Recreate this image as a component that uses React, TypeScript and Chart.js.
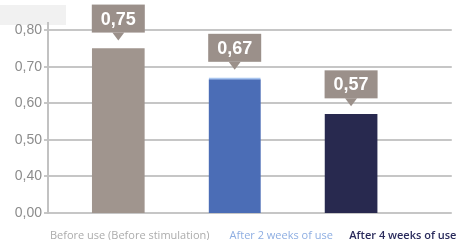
import React, { useEffect, useRef } from "react";
import { Chart, registerables } from "chart.js";

Chart.register(...registerables);

const categories = ["Before use (Before stimulation)", "After 2 weeks of use", "After 4 weeks of use"];
const values = [0.75, 0.67, 0.57];
const barColors = ["#a0958e", "#4b6db6", "#28294f"];
const labelColors = ["#acacac", "#8eaee2", "#2a2b5c"];
// broken axis: the bottom tick (0,00) sits where 0.30 would be
const yTickValues = [0.3, 0.4, 0.5, 0.6, 0.7, 0.8];
const yTickLabels = ["0,00", "0,40", "0,50", "0,60", "0,70", "0,80"];
// x positions (in bar units) of the category labels under the axis
const xLabelPositions = [0.098, 1.4, 2.445];

const valueBoxPlugin = {
  id: "valueBoxes",
  beforeDraw(chart: any) {
    const ctx = chart.ctx;
    ctx.save();
    ctx.fillStyle = "#f1f1f1";
    ctx.fillRect(0, 5, 66, 20);
    ctx.restore();
  },
  afterDatasetsDraw(chart: any) {
    const ctx = chart.ctx;
    const meta = chart.getDatasetMeta(0);
    ctx.save();
    meta.data.forEach((bar: any, i: number) => {
      const { x, y } = bar.getProps(["x", "y"], true);
      const w = 53;
      const h = 28;
      const bottom = y - 16;
      const top = bottom - h;
      ctx.fillStyle = "#9b908a";
      ctx.fillRect(x - w / 2, top, w, h);
      ctx.beginPath();
      ctx.moveTo(x - 6, bottom);
      ctx.lineTo(x + 6, bottom);
      ctx.lineTo(x, bottom + 8);
      ctx.closePath();
      ctx.fill();
      ctx.fillStyle = "#ffffff";
      ctx.font = "bold 18px 'Liberation Sans', Arial, sans-serif";
      ctx.textAlign = "center";
      ctx.textBaseline = "middle";
      ctx.fillText(values[i].toFixed(2).replace(".", ","), x, top + h / 2 + 1);
    });
    ctx.restore();
  },
};

export default function App() {
  const ref = useRef<HTMLCanvasElement | null>(null);

  useEffect(() => {
    if (!ref.current) return;
    const chart = new Chart(ref.current, {
      type: "bar",
      data: {
        datasets: [
          {
            data: values.map((v, i) => ({ x: i, y: v })),
            backgroundColor: barColors,
            borderColor: "#a9c5ef",
            borderWidth: (c: any) => (c.dataIndex === 1 ? { top: 2, left: 0, right: 0, bottom: 0 } : 0),
            barThickness: 52,
          },
        ],
      },
      options: {
        animation: false,
        responsive: false,
        maintainAspectRatio: false,
        layout: { padding: { top: 23, right: 13, left: 0, bottom: 0 } },
        plugins: { legend: { display: false }, tooltip: { enabled: false } },
        scales: {
          x: {
            type: "linear",
            offset: false,
            min: -0.604,
            max: 2.865,
            grid: { display: false, offset: false },
            border: { display: false },
            afterBuildTicks: (scale: any) => {
              scale.ticks = xLabelPositions.map((v) => ({ value: v }));
            },
            afterFit: (scale: any) => {
              scale.height = 27;
            },
            ticks: {
              autoSkip: false,
              maxRotation: 0,
              minRotation: 0,
              padding: 8,
              callback: (_v: any, i: number) => categories[i],
              color: (c: any) => labelColors[c.index],
              font: (c: any) => ({
                family: "'Open Sans', sans-serif",
                size: 11,
                weight: c.index === 2 ? "600" : "400",
              }),
            },
          },
          y: {
            min: 0.3,
            max: 0.82,
            afterBuildTicks: (scale: any) => {
              scale.ticks = yTickValues.map((v) => ({ value: v }));
            },
            afterFit: (scale: any) => {
              scale.width = 48;
            },
            grid: {
              color: "#c6c6c6",
              lineWidth: 2,
              tickLength: 4,
              drawTicks: true,
            },
            border: { display: true, color: "#c2c2c2", width: 2 },
            ticks: {
              padding: 2,
              color: "#8c8c8c",
              font: { family: "'Liberation Sans', Arial, sans-serif", size: 14 },
              callback: (_v: any, i: number) => yTickLabels[i],
            },
          },
        },
      },
      plugins: [valueBoxPlugin],
    } as any);
    return () => chart.destroy();
  }, []);

  return (
    <div style={{ position: "absolute", left: 0, top: 0, width: 466, height: 240, background: "#ffffff" }}>
      <canvas ref={ref} width={466} height={240} style={{ width: 466, height: 240, display: "block" }} />
    </div>
  );
}
